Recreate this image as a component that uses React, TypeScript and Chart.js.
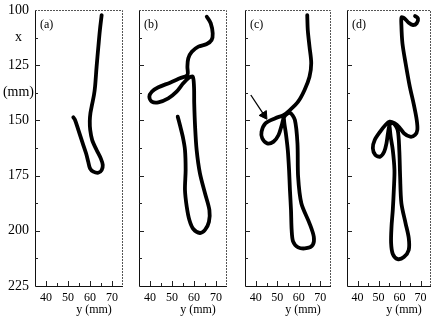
import React, { useEffect, useRef } from 'react';
import { Chart, registerables } from 'chart.js';

Chart.register(...registerables);

// Horizontal axis: "y (mm)"; vertical axis: "x (mm)" (downwards)
const hTickValues = [35, 40, 45, 50, 55, 60, 65, 70, 75];
const hTickLabels = ['', '40', '', '50', '', '60', '', '70', ''];
const vTickValues = [100, 112.5, 125, 137.5, 150, 162.5, 175, 187.5, 200, 212.5, 225];
const vTickLabels = ['100', 'x', '125', '(mm)', '150', '', '175', '', '200', '', '225'];
const panelLabels = ['(a)', '(b)', '(c)', '(d)'];
const axisTitle = 'y (mm)';

// Panel (a)
const aY = [65.3, 64.5, 63.8, 63.0, 62.3, 61.8, 60.9, 60.2, 59.9, 60.1, 61.0, 63.0, 64.9, 65.8, 65.3, 63.8, 61.5, 60.0, 59.2, 58.2, 56.7, 54.7, 53.2, 52.4];
const aX = [102.3, 109.1, 116.6, 125.7, 134.7, 138.5, 143.0, 146.7, 150.3, 154.3, 158.9, 163.4, 167.2, 170.2, 172.5, 173.7, 173.2, 171.7, 168.7, 164.9, 160.4, 154.3, 149.8, 148.6];

// Panel (b)
const bY = [65.8, 67.6, 68.5, 68.0, 65.8, 62.0, 59.0, 57.4, 57.0, 57.0, 53.6, 49.1, 43.8, 40.8, 39.7, 40.8, 43.8, 48.3, 52.1, 55.1, 57.4, 59.4, 60.0, 60.1, 60.5, 61.2, 62.7, 65.0, 67.0, 66.8, 65.0, 62.7, 59.7, 57.9, 56.7, 55.9, 56.2, 55.9, 54.9, 53.6, 52.6];
const bX = [103.0, 106.0, 110.6, 113.6, 115.4, 116.6, 118.9, 121.9, 125.7, 129.4, 130.9, 132.9, 135.0, 137.0, 139.3, 141.5, 141.8, 140.0, 137.0, 133.2, 130.9, 130.2, 134.7, 142.3, 152.9, 163.4, 174.0, 183.0, 190.6, 195.9, 199.6, 201.0, 199.2, 195.1, 189.1, 181.5, 172.5, 163.4, 157.4, 152.1, 148.3];

// Panel (c)
const cY = [63.95, 64.2, 65.0, 65.8, 65.0, 62.7, 59.7, 55.9, 52.9, 49.1, 44.5, 42.7, 43.0, 45.3, 48.3, 50.6, 52.1, 53.3, 55.9, 58.2, 59.4, 59.7, 61.2, 65.0, 67.0, 66.5, 63.5, 59.7, 57.4, 56.7, 56.4, 55.9, 55.5, 54.9, 54.0, 53.3, 53.0];
const cX = [102.3, 109.1, 116.6, 124.1, 130.2, 136.2, 141.5, 145.3, 147.6, 149.0, 151.3, 155.1, 158.1, 160.4, 159.6, 156.6, 152.1, 148.3, 146.6, 149.8, 160.4, 175.5, 187.5, 196.6, 202.7, 206.4, 207.9, 207.5, 204.9, 199.6, 190.6, 181.5, 172.5, 163.4, 155.8, 151.3, 148.3];
const arrowY = [37.7, 43.9];
const arrowX = [138.5, 147.6];

// Panel (d)
const dY = [67.4, 68.8, 68.2, 66.4, 64.4, 62.4, 61.0, 60.9, 61.4, 62.9, 64.9, 66.7, 68.2, 68.5, 67.4, 65.1, 62.1, 59.9, 57.6, 55.3, 53.3, 50.8, 48.2, 47.3, 48.5, 50.8, 52.7, 53.8, 54.5, 55.3, 56.8, 59.1, 59.9, 60.3, 60.9, 62.9, 64.4, 64.4, 62.1, 59.1, 56.8, 56.0, 56.2, 56.8, 57.3, 57.6, 56.8, 55.8, 55.3];
const dX = [102.7, 103.8, 106.0, 106.8, 105.8, 103.8, 103.3, 106.8, 115.1, 124.1, 134.7, 142.3, 149.8, 154.3, 156.6, 157.4, 155.8, 153.1, 151.3, 150.6, 152.1, 155.1, 158.9, 162.6, 165.7, 166.4, 164.2, 160.4, 155.8, 152.1, 151.0, 154.3, 163.4, 175.5, 187.5, 196.6, 203.3, 208.7, 211.9, 212.8, 210.5, 205.5, 198.1, 190.6, 181.5, 172.5, 163.4, 157.4, 152.9];

const SERIES = [
  { h: aY, v: aX },
  { h: bY, v: bX },
  { h: cY, v: cX },
  { h: dY, v: dX },
];

// Layout (pixels)
const LAYOUT = [
  { left: 0, width: 128, axisW: 35, padR: 5 },
  { left: 134, width: 98, axisW: 5, padR: 5 },
  { left: 239, width: 98, axisW: 5, padR: 5 },
  { left: 342, width: 94, axisW: 5, padR: 1 },
];
const H = 318;
const FONT = '"Liberation Serif", "DejaVu Serif", serif';

function Panel({ idx }: { idx: number }) {
  const ref = useRef<HTMLCanvasElement>(null);
  useEffect(() => {
    const s = SERIES[idx];
    const lay = LAYOUT[idx];
    const showY = idx === 0;
    const datasets: any[] = [
      {
        data: s.h.map((v, i) => ({ x: v, y: s.v[i] })),
        showLine: true,
        borderColor: '#000',
        borderWidth: 3.8,
        pointRadius: 0,
        tension: 0.3,
        fill: false,
        borderCapStyle: 'round',
        borderJoinStyle: 'round',
      },
    ];
    if (idx === 2) {
      datasets.push({
        data: arrowY.map((v, i) => ({ x: v, y: arrowX[i] })),
        showLine: true,
        borderColor: '#000',
        borderWidth: 1.3,
        tension: 0,
        pointStyle: 'triangle',
        pointRadius: [0, 5],
        pointRotation: [0, 146],
        pointBackgroundColor: '#000',
        pointBorderColor: '#000',
        pointBorderWidth: 1,
      });
    }
    const deco = {
      id: 'deco',
      afterDatasetsDraw(chart: any) {
        const { ctx, chartArea: a } = chart;
        const xs = chart.scales.x;
        const ys = chart.scales.y;
        ctx.save();
        ctx.lineWidth = 1;
        ctx.strokeStyle = '#111';
        ctx.beginPath();
        ctx.moveTo(a.left + 0.5, a.top);
        ctx.lineTo(a.left + 0.5, a.bottom + 0.5);
        ctx.lineTo(a.right, a.bottom + 0.5);
        ctx.stroke();
        ctx.setLineDash([2, 1]);
        ctx.strokeStyle = '#555';
        ctx.beginPath();
        ctx.moveTo(a.left, a.top + 0.5);
        ctx.lineTo(a.right - 0.5, a.top + 0.5);
        ctx.lineTo(a.right - 0.5, a.bottom);
        ctx.stroke();
        ctx.setLineDash([]);
        ctx.strokeStyle = '#222';
        ctx.beginPath();
        hTickValues.forEach((v) => {
          if (v <= 35 || v >= 75) return;
          const px = Math.round(xs.getPixelForValue(v)) + 0.5;
          const len = v % 10 === 0 ? 5 : 3;
          ctx.moveTo(px, a.bottom);
          ctx.lineTo(px, a.bottom - len);
        });
        vTickValues.forEach((v) => {
          if (v <= 100 || v >= 225) return;
          const py = Math.round(ys.getPixelForValue(v)) + 0.5;
          const len = v % 25 === 0 ? 5 : 3;
          ctx.moveTo(a.left, py);
          ctx.lineTo(a.left + len, py);
        });
        ctx.stroke();
        ctx.fillStyle = '#000';
        ctx.font = '12px ' + FONT;
        ctx.textAlign = 'left';
        ctx.textBaseline = 'alphabetic';
        ctx.fillText(panelLabels[idx], a.left + 5, a.top + 18);
        ctx.textAlign = 'center';
        ctx.textBaseline = 'middle';
        ctx.fillText(axisTitle, (a.left + a.right) / 2 + 15, 310);
        ctx.restore();
      },
    };
    const chart = new Chart(ref.current as HTMLCanvasElement, {
      type: 'scatter',
      data: { datasets },
      options: {
        responsive: false,
        animation: false,
        layout: { padding: { top: 10, right: lay.padR, left: 0, bottom: 0 } },
        plugins: { legend: { display: false }, tooltip: { enabled: false } },
        scales: {
          x: {
            type: 'linear',
            min: 35,
            max: 75,
            afterBuildTicks: (sc: any) => {
              sc.ticks = hTickValues.map((v) => ({ value: v }));
            },
            afterFit: (sc: any) => {
              sc.height = 32;
            },
            ticks: {
              autoSkip: false,
              maxRotation: 0,
              minRotation: 0,
              padding: 5,
              color: '#000',
              font: { family: FONT, size: 12 },
              callback: (_v: any, i: number) => hTickLabels[i],
            },
            grid: { display: false, drawTicks: false },
            border: { display: false },
          },
          y: {
            type: 'linear',
            reverse: true,
            min: 100,
            max: 225,
            afterBuildTicks: (sc: any) => {
              sc.ticks = vTickValues.map((v) => ({ value: v }));
            },
            afterFit: (sc: any) => {
              sc.width = lay.axisW;
            },
            ticks: {
              display: showY,
              autoSkip: false,
              crossAlign: 'center',
              padding: 1,
              color: '#000',
              font: { family: FONT, size: 14 },
              callback: (_v: any, i: number) => vTickLabels[i],
            },
            grid: { display: false, drawTicks: false },
            border: { display: false },
          },
        },
      } as any,
      plugins: [deco],
    });
    return () => chart.destroy();
  }, [idx]);
  const lay = LAYOUT[idx];
  return (
    <canvas
      ref={ref}
      width={lay.width}
      height={H}
      style={{ position: 'absolute', left: lay.left, top: 0, width: lay.width, height: H }}
    />
  );
}

export default function App() {
  return (
    <div
      style={{
        position: 'absolute',
        left: 0,
        top: 0,
        width: 436,
        height: H,
        overflow: 'hidden',
        background: '#fff',
      }}
    >
      {[0, 1, 2, 3].map((i) => (
        <Panel key={i} idx={i} />
      ))}
    </div>
  );
}
